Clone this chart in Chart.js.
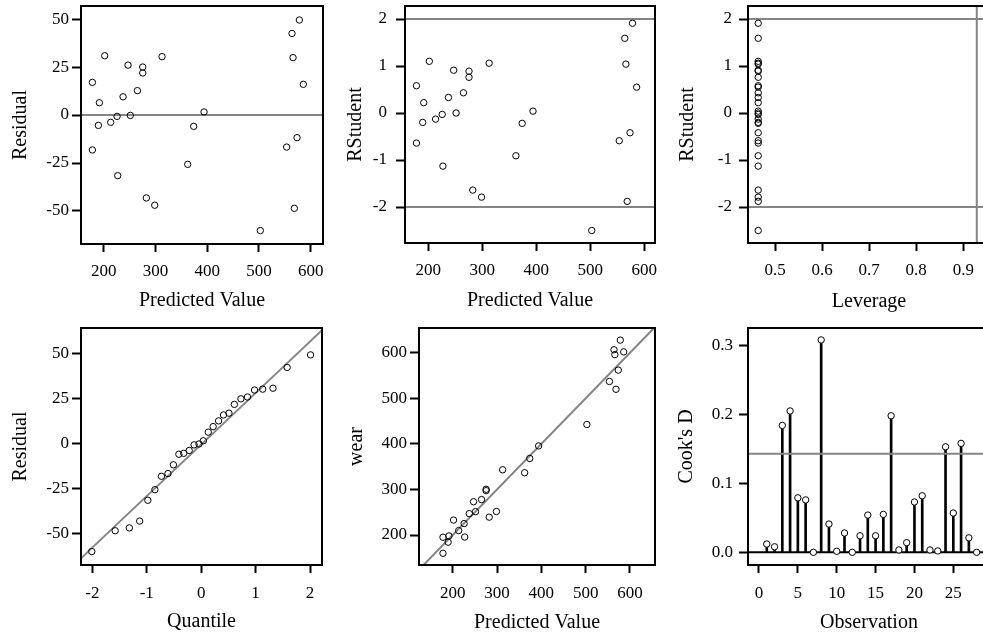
<!DOCTYPE html>
<html>
<head>
<meta charset="utf-8">
<script src="https://cdn.jsdelivr.net/npm/chart.js@4.4.0/dist/chart.umd.min.js"></script>
<style>
html,body{margin:0;padding:0;background:#fff;overflow:hidden;width:983px;height:637px;}
.p{position:absolute;}
</style>
</head>
<body>
<script>
// ---------- data (one entry per observation, ordered by predicted value) ----------
const predicted = [178.1,178.1,191.6,189.7,201.9,213.5,225.8,227.1,237.4,247.0,251.5,265.1,275.4,275.4,282.4,298.6,312.7,362.3,373.9,393.9,502.7,553.6,563.9,565.9,568.4,573.6,578.1,585.8];
const residual  = [17.0,-18.2,6.4,-5.4,30.9,-3.8,-0.7,-31.6,9.5,26.0,-0.2,12.7,25.0,21.9,-43.2,-47.0,30.4,-25.7,-5.9,1.6,-60.2,-16.7,42.5,29.9,-48.6,-11.8,49.5,16.0];
const rstudent  = [0.58,-0.64,0.22,-0.20,1.10,-0.13,-0.03,-1.13,0.33,0.91,0.00,0.43,0.89,0.76,-1.64,-1.79,1.06,-0.91,-0.22,0.04,-2.50,-0.59,1.59,1.04,-1.88,-0.42,1.91,0.55];
const wear      = [195.1,159.9,198.0,184.3,232.8,209.7,225.1,195.5,246.9,273.0,251.3,277.8,300.4,297.3,239.2,251.6,343.1,336.6,368.0,395.5,442.5,536.9,606.4,595.8,519.8,561.8,627.6,601.8];
const leverage  = [0.4643,0.4643,0.4643,0.4643,0.4643,0.4643,0.4643,0.4643,0.4643,0.4643,0.4643,0.4643,0.4643,0.4643,0.4643,0.4643,0.4643,0.4643,0.4643,0.4643,0.4643,0.4643,0.4643,0.4643,0.4643,0.4643,0.4643,0.4643];

// Q-Q plot (normal quantile vs sorted residual)
const qqQuantile = [-2.01,-1.58,-1.32,-1.13,-0.98,-0.85,-0.73,-0.61,-0.51,-0.41,-0.32,-0.22,-0.13,-0.04,0.04,0.13,0.22,0.32,0.41,0.51,0.61,0.73,0.85,0.98,1.13,1.32,1.58,2.01];
const qqResidual = [-60.2,-48.6,-47.0,-43.2,-31.6,-25.7,-18.2,-16.7,-11.8,-5.9,-5.4,-3.8,-0.7,-0.2,1.6,6.4,9.5,12.7,16.0,17.0,21.9,25.0,26.0,29.9,30.4,30.9,42.5,49.5];
const qqLineX = [-2.21, 2.23];
const qqLineY = [-64.0, 63.6];

// Cook's D by observation
const observation = [1,2,3,4,5,6,7,8,9,10,11,12,13,14,15,16,17,18,19,20,21,22,23,24,25,26,27,28];
const cooksD = [0.012,0.008,0.184,0.205,0.079,0.076,0.000,0.308,0.041,0.0015,0.028,0.000,0.024,0.054,0.024,0.055,0.198,0.0034,0.014,0.073,0.082,0.0034,0.002,0.153,0.057,0.158,0.021,0.000];

// reference values
const residRef = 0;
const rstudentRef = [-2, 2];
const leverageRef = 0.9286;
const cooksRef = 0.1429;

// tick labels
const ticksPred = [200,300,400,500,600];
const ticksResid = [-50,-25,0,25,50];
const ticksRStud = [-2,-1,0,1,2];
const ticksLev = [0.5,0.6,0.7,0.8,0.9];
const ticksQuant = [-2,-1,0,1,2];
const ticksWear = [200,300,400,500,600];
const ticksObs = [0,5,10,15,20,25];
const ticksCook = [0.0,0.1,0.2,0.3];

// ---------- styling helpers ----------
const FONT = "'Liberation Serif','Times New Roman',serif";
const GREY = '#858585';

const framePlugin = {
  id: 'frame',
  afterDatasetsDraw(chart) {
    const {ctx, chartArea: a} = chart;
    ctx.save();
    ctx.strokeStyle = '#000';
    ctx.lineWidth = 2;
    ctx.strokeRect(a.left, a.top, a.right - a.left, a.bottom - a.top);
    ctx.restore();
  }
};

function axis(dir, o) {
  const isX = dir === 'x';
  return {
    type: 'linear',
    position: isX ? 'bottom' : 'left',
    offset: false,
    min: o.min, max: o.max,
    afterBuildTicks: s => { s.ticks = o.ticks.map(v => ({value: v})); },
    afterFit: s => {
      if (isX) { s.height = o.size; s.paddingLeft = 0; s.paddingRight = 0; }
      else { s.width = o.size; s.paddingTop = 0; s.paddingBottom = 0; }
    },
    grid: {display: true, offset: false, drawOnChartArea: false, drawTicks: true, tickLength: isX ? 8 : 9, tickWidth: 2, tickColor: '#000'},
    border: {display: true, color: '#000', width: 2},
    ticks: {
      font: {family: FONT, size: 17}, color: '#000', padding: o.tickPad,
      maxRotation: 0, minRotation: 0, autoSkip: false,
      callback: o.fmt || (v => String(v))
    },
    title: {
      display: true, text: o.title, color: '#000',
      font: {family: FONT, size: 20, lineHeight: 1.2},
      padding: isX ? {top: 0, bottom: o.titlePad} : {top: o.titlePad, bottom: 0}
    }
  };
}

function pts(xs, ys, fill) {
  return {
    type: 'scatter',
    data: xs.map((x, i) => ({x: x, y: ys[i]})),
    pointStyle: 'circle', pointRadius: 3.2, pointBorderWidth: 1,
    borderColor: '#000', backgroundColor: fill || 'rgba(0,0,0,0)',
    pointHoverRadius: 3.2, order: 0
  };
}
function refLine(xs, ys, color) {
  return {
    type: 'scatter', showLine: true,
    data: xs.map((x, i) => ({x: x, y: ys[i]})),
    borderColor: color || GREY, borderWidth: 2, pointRadius: 0, pointHoverRadius: 0,
    clip: 0, order: 1, tension: 0
  };
}

function panel(cfg) {
  const wrap = document.createElement('div');
  wrap.className = 'p';
  wrap.style.cssText = `left:${cfg.left}px;top:${cfg.top}px;width:${cfg.w}px;height:${cfg.h}px;`;
  const cv = document.createElement('canvas');
  cv.width = cfg.w; cv.height = cfg.h;
  cv.style.width = cfg.w + 'px'; cv.style.height = cfg.h + 'px';
  wrap.appendChild(cv);
  document.body.appendChild(wrap);
  new Chart(cv, {
    type: 'scatter',
    data: {datasets: cfg.datasets},
    options: {
      responsive: false, animation: false, devicePixelRatio: 1,
      events: [],
      layout: {padding: {top: cfg.area.t, right: cfg.w - cfg.area.r, left: 0, bottom: 0}},
      plugins: {legend: {display: false}, tooltip: {enabled: false}},
      scales: {x: axis('x', cfg.x), y: axis('y', cfg.y)}
    },
    plugins: [framePlugin]
  });
}

// ---------- panel 1: Residual vs Predicted ----------
const p1x = {min: 156.1, max: 623.8};
panel({
  left: 0, top: 0, w: 330, h: 315, area: {t: 6, r: 323},
  x: {min: p1x.min, max: p1x.max, ticks: ticksPred, size: 71, tickPad: 9, title: 'Predicted Value', titlePad: 2},
  y: {min: -67.2, max: 56.8, ticks: ticksResid, size: 81, tickPad: 3, title: 'Residual', titlePad: 9},
  datasets: [pts(predicted, residual), refLine([p1x.min, p1x.max], [residRef, residRef])]
});

// ---------- panel 2: RStudent vs Predicted ----------
const p2x = {min: 156.9, max: 619.8};
panel({
  left: 330, top: 0, w: 330, h: 315, area: {t: 6, r: 325},
  x: {min: p2x.min, max: p2x.max, ticks: ticksPred, size: 72, tickPad: 9, title: 'Predicted Value', titlePad: 2},
  y: {min: -2.766, max: 2.277, ticks: ticksRStud, size: 75, tickPad: 9, title: 'RStudent', titlePad: 14},
  datasets: [
    pts(predicted, rstudent),
    refLine([p2x.min, p2x.max], [rstudentRef[0], rstudentRef[0]]),
    refLine([p2x.min, p2x.max], [rstudentRef[1], rstudentRef[1]])
  ]
});

// ---------- panel 3: RStudent vs Leverage ----------
const p3x = {min: 0.4426, max: 0.9567};
const p3y = {min: -2.766, max: 2.277};
panel({
  left: 660, top: 0, w: 340, h: 315, area: {t: 6, r: 330},
  x: {min: p3x.min, max: p3x.max, ticks: ticksLev, size: 72, tickPad: 9, title: 'Leverage', titlePad: 1, fmt: v => v.toFixed(1)},
  y: {min: p3y.min, max: p3y.max, ticks: ticksRStud, size: 88, tickPad: 7, title: 'RStudent', titlePad: 16},
  datasets: [
    pts(leverage, rstudent),
    refLine([p3x.min, p3x.max], [rstudentRef[0], rstudentRef[0]]),
    refLine([p3x.min, p3x.max], [rstudentRef[1], rstudentRef[1]]),
    refLine([leverageRef, leverageRef], [p3y.min, p3y.max])
  ]
});

// ---------- panel 4: Residual vs Quantile ----------
panel({
  left: 0, top: 315, w: 330, h: 322, area: {t: 13, r: 322},
  x: {min: -2.208, max: 2.22, ticks: ticksQuant, size: 72, tickPad: 10, title: 'Quantile', titlePad: 3},
  y: {min: -67.7, max: 64.5, ticks: ticksResid, size: 81, tickPad: 3, title: 'Residual', titlePad: 9},
  datasets: [pts(qqQuantile, qqResidual), refLine(qqLineX, qqLineY)]
});

// ---------- panel 5: wear vs Predicted ----------
const diag = [120, 660];
panel({
  left: 330, top: 315, w: 330, h: 322, area: {t: 13, r: 325},
  x: {min: 124.0, max: 656.4, ticks: ticksPred, size: 72, tickPad: 10, title: 'Predicted Value', titlePad: 2},
  y: {min: 134.2, max: 654.2, ticks: ticksWear, size: 89, tickPad: 3, title: 'wear', titlePad: 15},
  datasets: [pts(predicted, wear), refLine(diag, diag)]
});

// ---------- panel 6: Cook's D vs Observation ----------
const p6x = {min: -1.415, max: 29.72};
panel({
  left: 660, top: 315, w: 340, h: 322, area: {t: 13, r: 330},
  x: {min: p6x.min, max: p6x.max, ticks: ticksObs, size: 72, tickPad: 10, title: 'Observation', titlePad: 2},
  y: {min: -0.0184, max: 0.3253, ticks: ticksCook, size: 88, tickPad: 6, title: "Cook's D", titlePad: 15, fmt: v => v.toFixed(1)},
  datasets: [
    pts(observation, cooksD, '#fff'),
    {
      type: 'bar',
      data: observation.map((x, i) => ({x: x, y: cooksD[i]})),
      backgroundColor: '#000', borderWidth: 0, barThickness: 2, grouped: false, order: 2
    },
    refLine([p6x.min, p6x.max], [0, 0], '#000'),
    refLine([p6x.min, p6x.max], [cooksRef, cooksRef])
  ]
});
</script>
</body>
</html>
